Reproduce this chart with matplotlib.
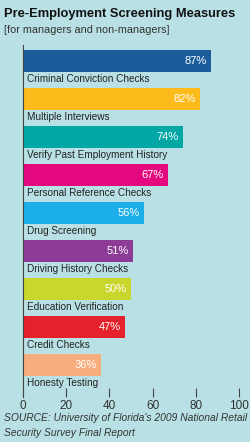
import matplotlib

matplotlib.use("Agg")
import matplotlib.pyplot as plt

# data
categories = [
    "Criminal Conviction Checks",
    "Multiple Interviews",
    "Verify Past Employment History",
    "Personal Reference Checks",
    "Drug Screening",
    "Driving History Checks",
    "Education Verification",
    "Credit Checks",
    "Honesty Testing",
]
values = [87, 82, 74, 67, 56, 51, 50, 47, 36]
colors = ["#1B5C9B", "#FDBA1B", "#00A7A5", "#E4097E", "#1BAEE9",
          "#8C3B97", "#C9D72C", "#E5212B", "#F8AE7C"]
xticks = [0, 20, 40, 60, 80, 100]

BG = "#B9E1E5"
TEXT = "#222222"
FONT = "Liberation Sans"

fig = plt.figure(figsize=(2.5, 4.42), dpi=100, facecolor=BG)
ax = fig.add_axes([0.092, 0.1018, 0.864, 0.7964])
ax.set_facecolor(BG)

ypos = list(range(len(categories)))
ax.barh(ypos, values, height=0.58, color=colors, zorder=2)

for y, v, name in zip(ypos, values, categories):
    ax.text(v - 1.8, y, f"{v}%", color="white", ha="right", va="center",
            fontsize=8, family=FONT)
    ax.text(1.8, y + 0.34, name, color=TEXT, ha="left", va="top",
            fontsize=7.2, family=FONT)

ax.set_xlim(0, 100)
ax.set_ylim(8.842, -0.421)
ax.set_xticks(xticks)
ax.set_xticklabels([str(t) for t in xticks], family=FONT, fontsize=8.5,
                   color="#333333")
ax.set_yticks([])
ax.tick_params(axis="x", direction="in", length=6.5, width=0.8,
               color="#444444", pad=2)
for s in ["top", "right", "bottom"]:
    ax.spines[s].set_visible(False)
ax.spines["left"].set_color("#444444")
ax.spines["left"].set_linewidth(0.8)

fig.text(0.016, 0.968, "Pre-Employment Screening Measures", fontsize=9.3,
         fontweight="bold", family=FONT, color="#111111", va="center")
fig.text(0.016, 0.932, "[for managers and non-managers]", fontsize=7.8,
         family=FONT, color="#333333", va="center")
fig.text(0.016, 0.054, "SOURCE: University of Florida's 2009 National Retail",
         fontsize=7.4, style="italic", family=FONT, color="#333333", va="center")
fig.text(0.016, 0.020, "Security Survey Final Report",
         fontsize=7.4, style="italic", family=FONT, color="#333333", va="center")

fig.savefig("out.png", dpi=100, facecolor=BG)
